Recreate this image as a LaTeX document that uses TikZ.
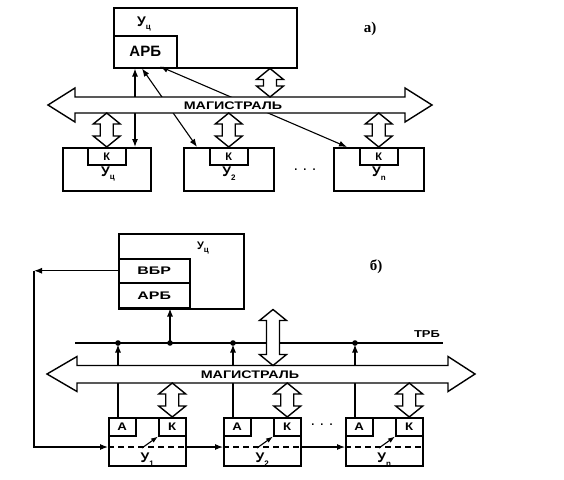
\documentclass[tikz,border=0pt]{standalone}
\usepackage{fontspec}
\setmainfont{Liberation Sans}
\newfontfamily\serifb{Liberation Serif}
\usetikzlibrary{arrows.meta,calc}
\newcommand\sbs[1]{\raisebox{-0.5ex}{\fontsize{8}{8}\selectfont #1}}
\newcommand\wide[2][1.3]{\scalebox{#1}[1]{#2}}
\newcommand\vdarr[2]{%
  \coordinate (dA) at (#1);
  \coordinate (dB) at (#2);
  \draw[hollow] (dA) -- ($(dA)+(13.5,11)$) -- ($(dA)+(6.5,11)$) -- ($(dB)+(6.5,-11)$)
    -- ($(dB)+(13.5,-11)$) -- (dB) -- ($(dB)+(-13.5,-11)$) -- ($(dB)+(-6.5,-11)$)
    -- ($(dA)+(-6.5,11)$) -- ($(dA)+(-13.5,11)$) -- cycle;}
\tikzset{
  box/.style={draw, line width=1.5pt, inner sep=0pt, anchor=north west},
  conn/.style={line width=1.1pt, -{Latex[length=8pt,width=6pt]}},
  conntwo/.style={line width=1.1pt, {Latex[length=8pt,width=6pt]}-{Latex[length=8pt,width=6pt]}},
  hollow/.style={draw, fill=white, line width=1.4pt, line join=miter},
  lbl/.style={font=\bfseries\fontsize{14}{14}\selectfont, inner sep=0pt},
  small/.style={font=\bfseries\fontsize{11}{11}\selectfont, inner sep=0pt},
  tag/.style={font=\serifb\bfseries\fontsize{15}{15}\selectfont, inner sep=0pt},
}
\begin{document}
\begin{tikzpicture}[x=1pt,y=-1pt]
\useasboundingbox (0,0) rectangle (564,479);
\fill[white] (0,0) rectangle (564,479);

% ===================== a) =====================
\node[box, minimum width=183pt, minimum height=60pt] (uc) at (113,7) {};
\node[box, minimum width=63pt, minimum height=32pt] (arb) at (113,35) {};
\node[box, minimum width=88pt, minimum height=43pt] (b1) at (62,147) {};
\node[box, minimum width=38pt, minimum height=17pt] (k1) at (87,147) {};
\node[box, minimum width=90pt, minimum height=43pt] (b2) at (183,147) {};
\node[box, minimum width=38pt, minimum height=17pt] (k2) at (209,147) {};
\node[box, minimum width=90pt, minimum height=43pt] (bn) at (333,147) {};
\node[box, minimum width=38pt, minimum height=17pt] (kn) at (359,147) {};

\coordinate (mTa) at (240,97);
\coordinate (mBa) at (240,113);

\draw[conntwo] ($(arb.south west)+(22,0)$) -- ($(b1.north west)+(73,0)$);
\draw[conntwo] ($(arb.south west)+(29,0)$) -- ($(b2.north west)+(14,0)$);
\draw[conntwo] ($(arb.south west)+(47,-2)$) -- ($(bn.north west)+(14,0)$);

% magistral a
\draw[hollow] (48,105) -- (75,88) -- (75,97) -- (405,97) -- (405,88) -- (432,105)
  -- (405,122) -- (405,113) -- (75,113) -- (75,122) -- cycle;

\coordinate (t1) at ($(uc.south west)+(157,0)$);
\vdarr{t1}{t1 |- mTa}
\vdarr{k1.north |- mBa}{k1.north}
\vdarr{k2.north |- mBa}{k2.north}
\vdarr{kn.north |- mBa}{kn.north}

\node[lbl] (ucl) at (144,24) {У\sbs{ц}};
\node[lbl, font=\bfseries\fontsize{15}{15}\selectfont] (arbl) at (arb.center) {АРБ};
\node[tag] (ta) at (370,29) {а)};
\node[small] (magl) at (233,106) {\wide{МАГИСТРАЛЬ}};
\node[small] (k1l) at (k1.center) {К};
\node[small] (k2l) at (k2.center) {К};
\node[small] (knl) at (kn.center) {К};
\node[lbl] (u1l) at (108,174) {У\sbs{ц}};
\node[lbl] (u2l) at (229,174) {У\sbs{2}};
\node[lbl] (unl) at (379,174) {У\sbs{n}};
\node[small] (dotsa) at (305,170) {.\hspace{6pt}.\hspace{6pt}.};

% ===================== б) =====================
\node[box, minimum width=125pt, minimum height=75pt] (uc2) at (118,233) {};
\node[box, minimum width=71pt, minimum height=24pt] (vbr) at (118,258) {};
\node[box, minimum width=71pt, minimum height=25pt] (arb2) at (118,282) {};

\node[box, minimum width=77pt, minimum height=48pt] (u1) at (108,417) {};
\node[box, minimum width=27pt, minimum height=18pt] (a1) at (108,417) {};
\node[box, minimum width=27pt, minimum height=18pt] (k1b) at (158,417) {};
\node[box, minimum width=77pt, minimum height=48pt] (u2) at (223,417) {};
\node[box, minimum width=27pt, minimum height=18pt] (a2) at (223,417) {};
\node[box, minimum width=27pt, minimum height=18pt] (k2b) at (273,417) {};
\node[box, minimum width=77pt, minimum height=48pt] (un) at (345,417) {};
\node[box, minimum width=27pt, minimum height=18pt] (an) at (345,417) {};
\node[box, minimum width=27pt, minimum height=18pt] (knb) at (395,417) {};

\coordinate (trbL) at (75,343);
\coordinate (trbR) at (443,343);
\coordinate (mTb) at (260,365.5);
\coordinate (mBb) at (260,383);

\draw[line width=1.1pt] (trbL) -- (trbR);

% feedback loop
\coordinate (u1d) at ($(u1.north west)+(0,30)$);
\coordinate (u2d) at ($(u2.north west)+(0,30)$);
\coordinate (und) at ($(un.north west)+(0,30)$);
\coordinate (fbT) at ($(vbr.west)+(-84,0)$);
\draw[conn] (vbr.west) -- (fbT);
\draw[conn] (fbT) -- (fbT |- u1d) -- (u1d);
\draw[conn] (u1d -| u1.east) -- (u2d);
\draw[conn] (u2d -| u2.east) -- (und);
\foreach \d/\b in {u1d/u1,u2d/u2,und/un}
  \draw[line width=1.1pt, dash pattern=on 6pt off 4pt] (\d) -- (\d -| \b.east);

% small switch arrows
\draw[line width=1.1pt, -{Latex[length=7pt,width=5pt]}] ($(u1.north west)+(34,31)$) -- (k1b.south west);
\draw[line width=1.1pt, -{Latex[length=7pt,width=5pt]}] ($(u2.north west)+(34,31)$) -- (k2b.south west);
\draw[line width=1.1pt, -{Latex[length=7pt,width=5pt]}] ($(un.north west)+(34,31)$) -- (knb.south west);

% request lines to ТРБ
\coordinate (q0) at ($(arb2.south west)+(52,0)$);
\draw[conn] (q0 |- trbL) -- (q0);
\fill (q0 |- trbL) circle (2.8pt);
\foreach \a in {a1,a2,an}{
  \coordinate (qq) at ($(\a.north west)+(10,0)$);
  \draw[conn, shorten >=1.5pt] (qq) -- (qq |- trbL);
  \fill (qq |- trbL) circle (2.8pt);
}

% magistral b
\draw[hollow] (47,374) -- (77,356.5) -- (77,365.5) -- (448,365.5) -- (448,356.5) -- (475,374)
  -- (448,391.5) -- (448,383) -- (77,383) -- (77,391.5) -- cycle;

\coordinate (t2) at ($(uc2.south west)+(155,0)$);
\vdarr{t2}{t2 |- mTb}
\vdarr{k1b.north |- mBb}{k1b.north}
\vdarr{k2b.north |- mBb}{k2b.north}
\vdarr{knb.north |- mBb}{knb.north}

\node[lbl, font=\bfseries\fontsize{11}{11}\selectfont] (uc2l) at (203,248) {У\sbs{ц}};
\node[small] (vbrl) at (vbr.center) {\wide[1.45]{ВБР}};
\node[small] (arb2l) at (arb2.center) {\wide[1.45]{АРБ}};
\node[tag] (tb) at (376,267) {б)};
\node[small, font=\bfseries\fontsize{10}{10}\selectfont] (trbl) at (427,334) {\wide{ТРБ}};
\node[small] (magbl) at (250,375) {\wide{МАГИСТРАЛЬ}};
\foreach \n in {a1,a2,an}
  \node[small] at (\n.center) {\wide[1.2]{А}};
\foreach \n in {k1b,k2b,knb}
  \node[small] at (\n.center) {\wide[1.2]{К}};
\node[lbl] (y1l) at ($(u1.south)+(0,-7)$) {У\sbs{1}};
\node[lbl] (y2l) at ($(u2.south)+(0,-7)$) {У\sbs{2}};
\node[lbl] (ynl) at ($(un.south)+(0,-7)$) {У\sbs{n}};
\node[small] (dotsb) at (322,425) {.\hspace{6pt}.\hspace{6pt}.};
\end{tikzpicture}
\end{document}
